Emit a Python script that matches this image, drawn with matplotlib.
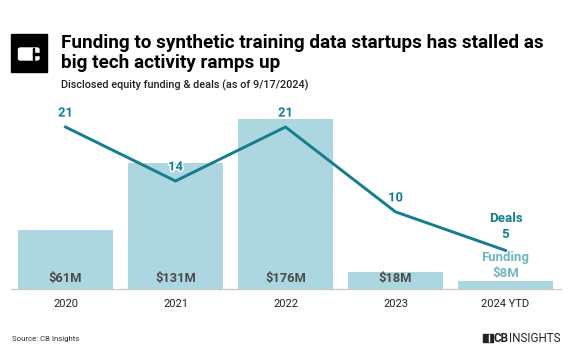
import matplotlib.pyplot as plt
import matplotlib.patheffects as pe
from matplotlib.patches import Rectangle, FancyBboxPatch

years = ["2020", "2021", "2022", "2023", "2024 YTD"]
funding = [61, 131, 176, 18, 8]          # $M
funding_labels = ["$61M", "$131M", "$176M", "$18M", "$8M"]
deals = [21, 14, 21, 10, 5]

W, H = 572, 364
BAR = "#acd7e0"
LINE = "#137f8e"
FUND_TXT = "#6db7c3"
GREY = "#4a4a4a"

plt.rcParams["font.family"] = ["Roboto", "DejaVu Sans"]

fig = plt.figure(figsize=(W / 100, H / 100), dpi=100)
fig.patch.set_facecolor("white")


def fx(x):
    return x / W


def fy(y):
    return 1 - y / H


ax = fig.add_axes([fx(10.5), fy(289), (560.5 - 10.5) / W, (289 - 100) / H])
x = list(range(len(years)))
ax.bar(x, funding, width=0.864, color=BAR, zorder=1)
ax.set_xlim(-0.5, 4.5)
ax.set_ylim(0, 195.9)
ax.set_yticks([])
for s in ["top", "left", "right"]:
    ax.spines[s].set_visible(False)
ax.spines["bottom"].set_color("#c8c8c8")
ax.spines["bottom"].set_linewidth(0.9)
ax.set_xticks(x)
ax.set_xticklabels(years, fontsize=8, color="#222222")
ax.tick_params(axis="x", length=0, pad=7)
ax.patch.set_alpha(0)

stroke = [pe.withStroke(linewidth=2.2, foreground="white")]

for i in range(4):
    ax.annotate(funding_labels[i], (i, 0), xytext=(0, 7.5), textcoords="offset points",
                ha="center", va="center", fontsize=9.3, fontweight="bold", color=GREY)

ax2 = ax.twinx()
ax2.set_ylim(0, 24.5)
ax2.set_yticks([])
for s in ax2.spines.values():
    s.set_visible(False)
ax2.plot(x, deals, color=LINE, linewidth=2.1, zorder=3)

for i in range(4):
    ax2.annotate(str(deals[i]), (i, deals[i]), xytext=(0, 10), textcoords="offset points",
                 ha="center", va="center", fontsize=9.3, fontweight="bold", color=LINE,
                 path_effects=stroke)

ax2.annotate("Deals", (4, deals[4]), xytext=(0, 23), textcoords="offset points",
             ha="center", va="center", fontsize=9.5, fontweight="bold", color=LINE)
ax2.annotate(str(deals[4]), (4, deals[4]), xytext=(0, 11.5), textcoords="offset points",
             ha="center", va="center", fontsize=9.5, fontweight="bold", color=LINE)
ax.annotate("Funding", (4, funding[4]), xytext=(0, 17), textcoords="offset points",
            ha="center", va="center", fontsize=9.5, fontweight="bold", color=FUND_TXT)
ax.annotate(funding_labels[4], (4, funding[4]), xytext=(0, 5.5), textcoords="offset points",
            ha="center", va="center", fontsize=9.5, fontweight="bold", color=FUND_TXT)

# header logo
fig.patches.append(Rectangle((fx(11), fy(72)), fx(36), 38 / H, transform=fig.transFigure,
                             color="black"))
fig.patches.append(FancyBboxPatch((fx(18.5), fy(60)), fx(20.5), 12 / H,
                                  boxstyle="round,pad=0,rounding_size=0.004",
                                  transform=fig.transFigure, color="white"))
fig.patches.append(Rectangle((fx(32.5), fy(60)), fx(1.2), 12 / H, transform=fig.transFigure,
                             color="black"))
fig.patches.append(Rectangle((fx(32.5), fy(54.6)), fx(7), 1.2 / H, transform=fig.transFigure,
                             color="black"))

fig.text(fx(61), fy(47.5), "Funding to synthetic training data startups has stalled as",
         fontsize=13.6, fontweight="bold", color="black", va="baseline")
fig.text(fx(61), fy(68.5), "big tech activity ramps up",
         fontsize=13.6, fontweight="bold", color="black", va="baseline")
fig.text(fx(61), fy(88.5), "Disclosed equity funding & deals (as of 9/17/2024)",
         fontsize=7.8, fontweight="medium", color="#222222", va="baseline")

# footer
fig.text(fx(12), fy(339), "Source: CB Insights", fontsize=5.6, color="#333333", va="center")
fig.patches.append(Rectangle((fx(483), fy(342)), fx(10), 8 / H, transform=fig.transFigure,
                             color="#222222"))
fig.patches.append(Rectangle((fx(488.5), fy(342)), fx(0.9), 8 / H, transform=fig.transFigure,
                             color="white"))
cb = fig.text(fx(494), fy(338), "CB", fontsize=8.4, fontweight="bold", color="#222222",
              va="center")
fig.canvas.draw()
cb_end = cb.get_window_extent().x1 / W
fig.text(cb_end, fy(338), "INSIGHTS", fontsize=8.4, color="#222222", va="center")

fig.savefig("out.png", dpi=100)
